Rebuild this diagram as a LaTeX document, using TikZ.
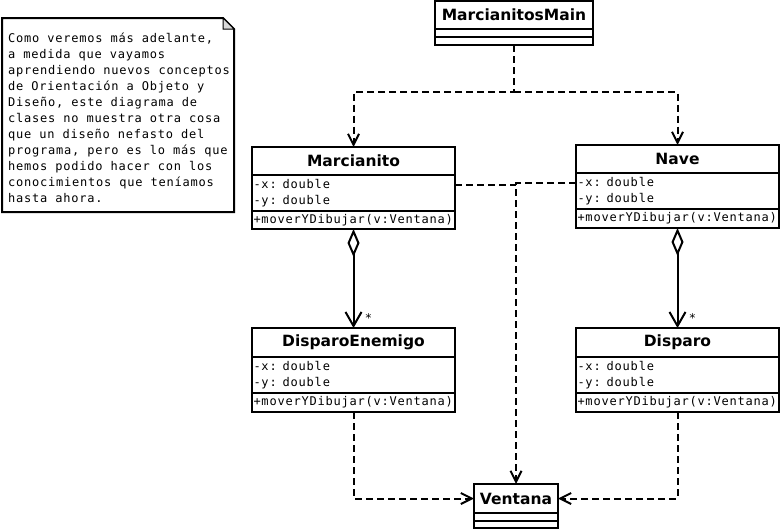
\documentclass[tikz,border=0pt]{standalone}
\usepackage{fontspec}
\newfontfamily\umlhead{DejaVu Sans}
\newfontfamily\umlmonofam{DejaVu Sans Mono}[LetterSpace=6.5]
\newcommand{\umlmono}{\umlmonofam\fontsize{12}{16}\selectfont}
\newcommand{\umlbold}{\umlhead\bfseries\fontsize{15.5}{18}\selectfont}
\usepackage{tikz}
\usetikzlibrary{positioning,arrows.meta}

\tikzset{
  classname/.style={draw, line width=2pt, outer sep=0pt, inner sep=0pt, anchor=north west, font=\umlbold},
  members/.style={draw, line width=2pt, outer sep=0pt, inner xsep=1.5pt, inner ysep=0pt, anchor=north west, align=left, font=\umlmono},
  dep/.style={line width=2pt, dash pattern=on 7pt off 4pt, -{Straight Barb[length=11pt,width=11pt,line width=2pt]}},
  comp/.style={line width=2pt, {Diamond[open,length=28pt,width=12pt,line width=2pt]}-{Straight Barb[length=14pt,width=16pt,line width=2pt]}}
}

\begin{document}
\begin{tikzpicture}[x=1pt, y=-1pt]
        \useasboundingbox (0,0) rectangle (780,530);

        % nota
        \draw[line width=2pt, fill=white] (2,18) -- (223,18) -- (234,29) -- (234,212) -- (2,212) -- cycle;
        \draw[line width=1pt, fill=gray!30] (223,18) -- (223,29) -- (234,29) -- cycle;
        \node[anchor=north west, inner sep=0pt, align=left, font=\umlmono] (note) at (8,33) {Como veremos más adelante,\\a medida que vayamos\\aprendiendo nuevos conceptos\\de Orientación a Objeto y\\Diseño, este diagrama de\\clases no muestra otra cosa\\que un diseño nefasto del\\programa, pero es lo más que\\hemos podido hacer con los\\conocimientos que teníamos\\hasta ahora.};

        % clases
        \node[classname, minimum width=158, minimum height=28] (main) at (435,1) {MarcianitosMain};
        \node[members, minimum width=158, minimum height=8] (mainA) at (main.south west) {};
        \node[members, minimum width=158, minimum height=8] (mainM) at (mainA.south west) {};

        \node[classname, minimum width=203, minimum height=28] (marc) at (252,147) {Marcianito};
        \node[members, text width=200, minimum height=36] (marcA) at (marc.south west) {-x: double\\-y: double};
        \node[members, text width=200, minimum height=18] (marcM) at (marcA.south west) {+moverYDibujar(v:Ventana)};

        \node[classname, minimum width=203, minimum height=28] (nave) at (576,145) {Nave};
        \node[members, text width=200, minimum height=36] (naveA) at (nave.south west) {-x: double\\-y: double};
        \node[members, text width=200, minimum height=19] (naveM) at (naveA.south west) {+moverYDibujar(v:Ventana)};

        \node[classname, minimum width=203, minimum height=29] (dispE) at (252,328) {DisparoEnemigo};
        \node[members, text width=200, minimum height=36] (dispEA) at (dispE.south west) {-x: double\\-y: double};
        \node[members, text width=200, minimum height=19] (dispEM) at (dispEA.south west) {+moverYDibujar(v:Ventana)};

        \node[classname, minimum width=203, minimum height=29] (disp) at (576,328) {Disparo};
        \node[members, text width=200, minimum height=36] (dispA) at (disp.south west) {-x: double\\-y: double};
        \node[members, text width=200, minimum height=19] (dispM) at (dispA.south west) {+moverYDibujar(v:Ventana)};

        \node[classname, minimum width=84, minimum height=29] (vent) at (474,484) {Ventana};
        \node[members, minimum width=84, minimum height=7.5] (ventA) at (vent.south west) {};
        \node[members, minimum width=84, minimum height=7.5] (ventM) at (ventA.south west) {};

        % dependencias
        \coordinate (split) at (514,92);
        \coordinate (joint) at (516,183);
        \coordinate (tapM) at (455,185);
        \draw[dep] (mainM.south) -- (split) -| (marc.north);
        \draw[dep] (split) -| (nave.north);
        \draw[dep] (naveA.west |- joint) -| (vent.north);
        \draw[line width=2pt, dash pattern=on 7pt off 4pt] (marcA.east |- tapM) -- (joint |- tapM);
        \draw[dep] (dispEM.south) |- (vent.west);
        \draw[dep] (dispM.south) |- (vent.east);

        % composicion
        \draw[comp] (marcM.south) -- (dispE.north) node[pos=0.9, right=7pt, font=\umlmono] {*};
        \draw[comp] (naveM.south) -- (disp.north) node[pos=0.9, right=7pt, font=\umlmono] {*};
    \end{tikzpicture}
\end{document}
